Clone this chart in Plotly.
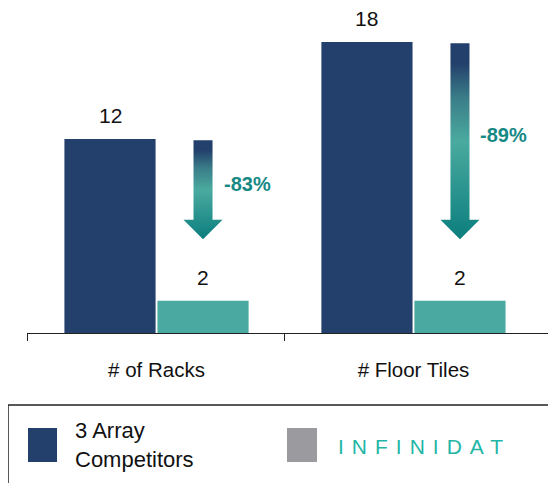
import plotly.graph_objects as go

# ---- data ----
categories = ["# of Racks", "# Floor Tiles"]
competitors = [12, 18]
infinidat = [2, 2]
reductions = ["-83%", "-89%"]
series_names = ["3 Array<br>Competitors", "INFINIDAT"]

NAVY = "#233f6b"
TEAL = "#4aa9a0"
GREY = "#9b9a9f"
TEAL_TXT = "#168985"
BRAND = "#1fb6a6"

bargap = 0.276
bargroupgap = 0.02
x_idx = list(range(len(categories)))
slot = (1 - bargap) / 2
off = slot / 2
x_lo, x_hi = -0.504, 1.543

fig = go.Figure()
fig.add_trace(go.Bar(x=x_idx, y=competitors, marker_color=NAVY, marker_line_width=0,
                     name="3 Array Competitors", showlegend=False))
fig.add_trace(go.Bar(x=x_idx, y=infinidat, marker_color=TEAL, marker_line_width=0,
                     name="INFINIDAT", showlegend=False))

annotations = []
# value labels
for i in x_idx:
    for val, dx in ((competitors[i], -off), (infinidat[i], off)):
        annotations.append(dict(x=i + dx, y=val, text=str(val), showarrow=False,
                                yanchor="bottom", yshift=10,
                                font=dict(family="Liberation Sans", size=21, color="#111111")))

# gradient arrows
shaft_hw = 0.037
head_hw = 0.076
head_h = 1.2
for i in x_idx:
    cx = i + off
    top = competitors[i] - 0.08
    tip = infinidat[i] + 3.8
    base = tip + head_h
    xs = [cx - shaft_hw, cx + shaft_hw, cx + shaft_hw, cx + head_hw, cx, cx - head_hw, cx - shaft_hw, cx - shaft_hw]
    ys = [top, top, base, base, tip, base, base, top]
    fig.add_trace(go.Scatter(
        x=xs, y=ys, mode="lines", fill="toself", line=dict(width=0), showlegend=False,
        hoverinfo="skip",
        fillgradient=dict(type="vertical", start=tip, stop=top,
                          colorscale=[[0, "#0b7e7e"], [0.5, "#4aaa9f"], [0.72, "#3a7d88"], [0.9, "#233f6b"], [1, "#233f6b"]]),
    ))
    annotations.append(dict(x=cx + shaft_hw, y=(top + tip) / 2, text="<b>%s</b>" % reductions[i],
                            showarrow=False, xanchor="left", xshift=9, yshift=6,
                            font=dict(family="Liberation Sans", size=20, color=TEAL_TXT)))

# legend (drawn manually); helpers map reference pixels to paper coordinates
px = lambda v: (v - 27) / 526
py = lambda v: (333 - v) / 313
shapes = [
    dict(type="rect", xref="paper", yref="paper", x0=px(8), x1=px(570), y0=py(500), y1=py(405),
         line=dict(color="#222222", width=1.5), fillcolor="rgba(0,0,0,0)"),
    dict(type="rect", xref="paper", yref="paper", x0=px(28), x1=px(57), y0=py(462), y1=py(428),
         fillcolor=NAVY, line=dict(width=0)),
    dict(type="rect", xref="paper", yref="paper", x0=px(287), x1=px(317), y0=py(462), y1=py(428),
         fillcolor=GREY, line=dict(width=0)),
]
annotations.append(dict(xref="paper", yref="paper", x=px(73), y=py(445), text=series_names[0],
                        showarrow=False, xanchor="left", yanchor="middle", align="left",
                        font=dict(family="Liberation Sans", size=22, color="#111111")))
annotations.append(dict(xref="paper", yref="paper", x=px(336), y=py(446),
                        text='<span style="letter-spacing:8px">%s</span>' % series_names[1],
                        showarrow=False, xanchor="left", yanchor="middle",
                        font=dict(family="Liberation Sans", size=21, color=BRAND)))

fig.update_layout(
    width=548, height=475,
    margin=dict(l=19, r=3, t=12, b=150),
    paper_bgcolor="white", plot_bgcolor="white",
    barmode="group", bargap=bargap, bargroupgap=bargroupgap,
    annotations=annotations, shapes=shapes,
    showlegend=False,
    xaxis=dict(range=[x_lo, x_hi], tickvals=x_idx, ticktext=categories, ticks="",
               showline=True, linecolor="#222222", linewidth=1.2, showgrid=False, zeroline=False,
               ticklabelstandoff=18,
               tickfont=dict(family="Liberation Sans", size=20.5, color="#111111"),
               minor=dict(tickvals=[x_lo + 0.002, 0.5, x_hi - 0.002], ticks="outside", ticklen=7,
                          tickcolor="#222222", tickwidth=1.2)),
    yaxis=dict(range=[0, 313 / 16.17], visible=False, showgrid=False, zeroline=False),
)

fig.write_html("out.html")
